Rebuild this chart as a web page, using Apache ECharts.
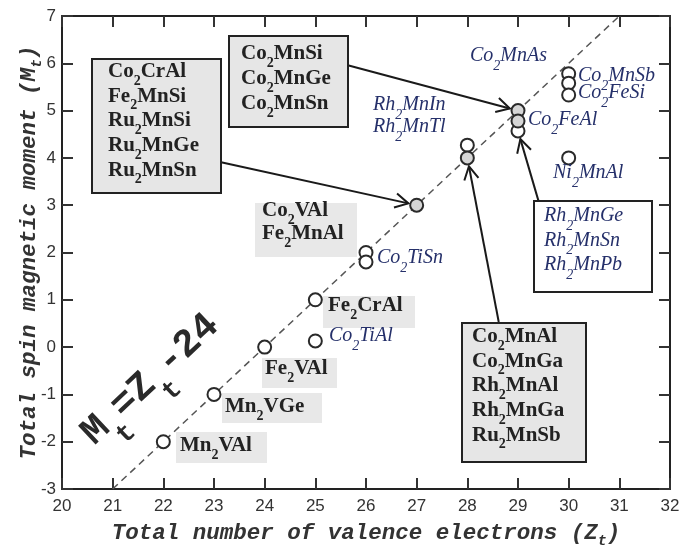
<!DOCTYPE html>
<html>
<head>
<meta charset="utf-8">
<script src="https://cdn.jsdelivr.net/npm/echarts@6/dist/echarts.min.js"></script>
<style>html,body{margin:0;padding:0;background:#fff;}#c{width:681px;height:545px;}</style>
</head>
<body>
<div id="c"></div>
<script>
// ---- data ----
const xTicks = [20, 32, 1];          // min, max, interval (valence electrons)
const yTicks = [-3, 7, 1];           // min, max, interval (moment)
const valenceOpen = [22, 23, 24, 25, 25, 26, 26, 28, 29, 30, 30, 30, 30];
const momentOpen  = [-2, -1, 0, 1, 0.13, 2, 1.8, 4.27, 4.57, 5.78, 5.58, 5.33, 4.0];
const valenceFilled = [27, 28, 29, 29];
const momentFilled  = [3, 4, 5, 4.78];
const ruleValence = [21, 31];
const ruleMoment  = [-3, 7];
const arrowFrom = [[23.14, 3.91], [25.64, 5.96], [29.41, 3.07], [28.62, 0.53]];
const arrowTo   = [[27, 3], [29, 5], [29, 4.57], [28, 4]];

// annotation texts
const box1 = ['Co2CrAl', 'Fe2MnSi', 'Ru2MnSi', 'Ru2MnGe', 'Ru2MnSn'];
const box2 = ['Co2MnSi', 'Co2MnGe', 'Co2MnSn'];
const box3 = ['Rh2MnGe', 'Rh2MnSn', 'Rh2MnPb'];
const box4 = ['Co2MnAl', 'Co2MnGa', 'Rh2MnAl', 'Rh2MnGa', 'Ru2MnSb'];

const SERIF = '"Liberation Serif", "Times New Roman", serif';
const MONO = '"Liberation Mono", "Courier New", monospace';
const SANS = '"Liberation Sans", Arial, sans-serif';

function richStyles(italic, size) {
  const base = {fontFamily: SERIF, fontWeight: italic ? 'normal' : 'bold', fontStyle: italic ? 'italic' : 'normal',
    fill: italic ? '#25306a' : '#222'};
  return {
    m: Object.assign({}, base, {fontSize: size, lineHeight: 24, verticalAlign: 'top'}),
    s: Object.assign({}, base, {fontSize: 14, lineHeight: 14, padding: [13, 0, 0, 0], verticalAlign: 'top'})
  };
}
function toRich(name) {
  return name.split(/(\d)/).filter(t => t !== '').map(t => /\d/.test(t) ? '{s|' + t + '}' : '{m|' + t + '}').join('');
}
function label(name, x, cy, italic) {
  const sz = italic ? 20 : 21;
  return {type: 'text', x: x, y: cy - 12, z: 100,
    style: {text: toRich(name), rich: richStyles(italic, sz), align: 'left', verticalAlign: 'top',
      fontFamily: SERIF, fontSize: sz, fill: italic ? '#25306a' : '#222'}};
}
function rect(x1, y1, x2, y2, fill, stroke) {
  return {type: 'rect', z: 99, shape: {x: x1, y: y1, width: x2 - x1, height: y2 - y1},
    style: {fill: fill, stroke: stroke || null, lineWidth: stroke ? 2 : 0}};
}

const graphics = [];
// boxes
graphics.push(rect(92, 59, 221, 193, '#e6e6e6', '#222'));
box1.forEach((t, i) => graphics.push(label(t, 108, 73 + i * 24.7, false)));
graphics.push(rect(229, 36, 348, 127, '#e6e6e6', '#222'));
box2.forEach((t, i) => graphics.push(label(t, 241, 55 + i * 25, false)));
graphics.push(rect(534, 201, 652, 292, '#ffffff', '#222'));
box3.forEach((t, i) => graphics.push(label(t, 544, 218 + i * 24.5, true)));
graphics.push(rect(462, 323, 586, 462, '#e6e6e6', '#222'));
box4.forEach((t, i) => graphics.push(label(t, 472, 338 + i * 24.7, false)));
// gray background labels
graphics.push(rect(255, 203, 357, 257, '#e8e8e8'));
graphics.push(label('Co2VAl', 262, 212, false));
graphics.push(label('Fe2MnAl', 262, 235, false));
graphics.push(rect(323, 296, 415, 328, '#e8e8e8'));
graphics.push(label('Fe2CrAl', 328, 307, false));
graphics.push(rect(262, 358, 337, 388, '#e8e8e8'));
graphics.push(label('Fe2VAl', 265, 370, false));
graphics.push(rect(222, 393, 322, 423, '#e8e8e8'));
graphics.push(label('Mn2VGe', 225, 408, false));
graphics.push(rect(176, 432, 267, 463, '#e8e8e8'));
graphics.push(label('Mn2VAl', 180, 447, false));
// italic free labels
graphics.push(label('Co2MnAs', 470, 58, true));
graphics.push(label('Rh2MnIn', 373, 107, true));
graphics.push(label('Rh2MnTl', 373, 129, true));
graphics.push(label('Co2MnSb', 578, 78, true));
graphics.push(label('Co2FeSi', 578, 95, true));
graphics.push(label('Co2FeAl', 528, 122, true));
graphics.push(label('Ni2MnAl', 553, 175, true));
graphics.push(label('Co2TiSn', 377, 260, true));
graphics.push(label('Co2TiAl', 329, 338, true));
// formula
graphics.push({type: 'text', x: 152, y: 381, rotation: 0.754, z: 100,
  style: {text: '{m|M}{s|t}{m|=Z}{s|t}{m|-24}', align: 'center', verticalAlign: 'middle',
    fontFamily: MONO, fontSize: 39, fontWeight: 'bold', fill: '#2a2a2a',
    rich: {
      m: {fontFamily: MONO, fontSize: 39, fontWeight: 'bold', fill: '#2a2a2a', lineHeight: 43, verticalAlign: 'top'},
      s: {fontFamily: MONO, fontSize: 27, fontWeight: 'bold', fill: '#2a2a2a', lineHeight: 27, padding: [29, 0, 0, 0], verticalAlign: 'top'}
    }}});

const nameRich = {
  a: {fontFamily: MONO, fontSize: 22.5, fontWeight: 'bold', fontStyle: 'italic', color: '#333', lineHeight: 22, verticalAlign: 'top'},
  s: {fontFamily: MONO, fontSize: 15, fontWeight: 'bold', fontStyle: 'italic', color: '#333', lineHeight: 15, padding: [12, 0, 0, 0], verticalAlign: 'top'}
};

const axisCommon = {
  axisLine: {show: true, onZero: false, lineStyle: {color: '#222', width: 2}},
  axisTick: {show: true, inside: true, length: 11, lineStyle: {color: '#333', width: 2}},
  splitLine: {show: false}
};
function mkAxis(t, extra) {
  return Object.assign({}, axisCommon, {type: 'value', min: t[0], max: t[1], interval: t[2]}, extra);
}

const chart = echarts.init(document.getElementById('c'), null, {renderer: 'canvas'});
chart.setOption({
  animation: false,
  grid: {left: 62, right: 11, top: 16, bottom: 56, containLabel: false, outerBoundsMode: 'none'},
  xAxis: [
    mkAxis(xTicks, {position: 'bottom',
      axisLabel: {fontFamily: SANS, fontSize: 17, color: '#333', margin: 9},
      name: '{a|Total number of valence electrons (Z}{s|t}{a|)}', nameLocation: 'middle', nameGap: 33,
      nameTextStyle: {rich: nameRich}}),
    mkAxis(xTicks, {position: 'top', axisLabel: {show: false}})
  ],
  yAxis: [
    mkAxis(yTicks, {position: 'left',
      axisLabel: {fontFamily: SANS, fontSize: 17, color: '#333', margin: 6},
      name: '{a|Total spin magnetic moment (M}{s|t}{a|)}', nameLocation: 'middle', nameGap: 22, nameRotate: 90,
      nameMoveOverlap: false,
      nameTextStyle: {rich: nameRich}}),
    mkAxis(yTicks, {position: 'right', axisLabel: {show: false}})
  ],
  graphic: graphics,
  series: [
    {type: 'line', data: ruleValence.map((v, i) => [v, ruleMoment[i]]), symbol: 'none', silent: true,
      lineStyle: {color: '#555', width: 1.5, type: [7, 5]}, z: 1},
    {type: 'custom', z: 3, silent: true,
      data: arrowFrom.map((f, i) => [f[0], f[1], arrowTo[i][0], arrowTo[i][1]]),
      encode: {x: [0, 2], y: [1, 3]},
      renderItem: function (params, api) {
        const p1 = api.coord([api.value(0), api.value(1)]);
        const c = api.coord([api.value(2), api.value(3)]);
        const dx = c[0] - p1[0], dy = c[1] - p1[1];
        const L = Math.sqrt(dx * dx + dy * dy);
        const ux = dx / L, uy = dy / L;
        const tip = [c[0] - ux * 8.5, c[1] - uy * 8.5];
        const a = 0.5, len = 15;
        const ang = Math.atan2(-uy, -ux);
        const w1 = [tip[0] + len * Math.cos(ang + a), tip[1] + len * Math.sin(ang + a)];
        const w2 = [tip[0] + len * Math.cos(ang - a), tip[1] + len * Math.sin(ang - a)];
        const st = {stroke: '#1a1a1a', lineWidth: 2, fill: null};
        return {type: 'group', children: [
          {type: 'polyline', shape: {points: [p1, tip]}, style: st},
          {type: 'polyline', shape: {points: [w1, tip, w2]}, style: st}
        ]};
      }},
    {type: 'scatter', z: 4, data: valenceOpen.map((v, i) => [v, momentOpen[i]]), symbol: 'circle', symbolSize: 13,
      itemStyle: {color: '#ffffff', borderColor: '#2a2a2a', borderWidth: 2, opacity: 1}},
    {type: 'scatter', z: 4, data: valenceFilled.map((v, i) => [v, momentFilled[i]]), symbol: 'circle', symbolSize: 13,
      itemStyle: {color: '#d6d6d6', borderColor: '#2a2a2a', borderWidth: 2, opacity: 1}}
  ]
});
</script>
</body>
</html>
